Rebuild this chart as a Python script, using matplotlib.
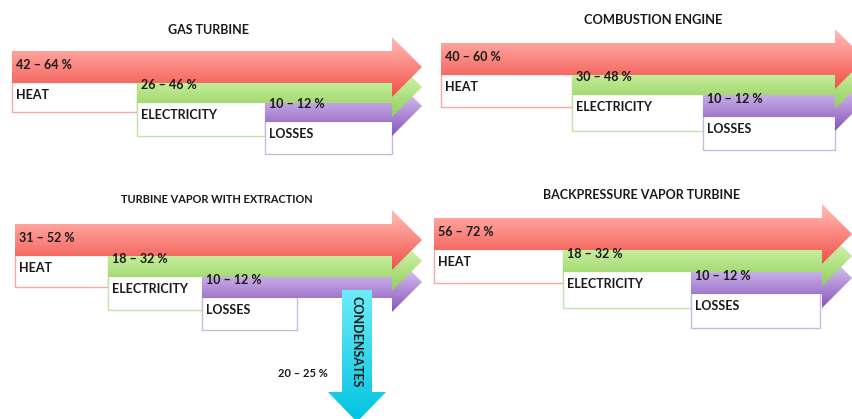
import matplotlib.pyplot as plt
import numpy as np
from matplotlib.patches import Polygon, Rectangle
from matplotlib.colors import to_rgb

plt.rcParams['font.family'] = ['Lato', 'DejaVu Sans']

# Energy split per technology
titles = ["GAS TURBINE", "COMBUSTION ENGINE",
          "TURBINE VAPOR WITH EXTRACTION", "BACKPRESSURE VAPOR TURBINE"]
heat_share = ["42 – 64 %", "40 – 60 %", "31 – 52 %", "56 – 72 %"]
electricity_share = ["26 – 46 %", "30 – 48 %", "18 – 32 %", "18 – 32 %"]
losses_share = ["10 – 12 %", "10 – 12 %", "10 – 12 %", "10 – 12 %"]
flow_names = ["HEAT", "ELECTRICITY", "LOSSES"]
condensates_name = "CONDENSATES"
condensates_share = "20 – 25 %"

# Layout, in pixels (y grows downward)
title_xy = [(209, 30), (653, 20), (217, 199), (642, 195)]
title_size = [9, 9.3, 7.9, 9]
band_x = [(12, 137, 265), (441, 572, 703), (15, 108, 202), (434, 563, 691)]
head_x = [392, 835, 392, 822]
band_y = [(67, 87, 106), (59, 79, 101), (240, 261, 282), (234, 256, 278)]
box_bottom = [(112, 136, 154), (107, 131, 150), (287, 310, 330), (283, 308, 328)]
losses_box_right = [392, 835, 297, 820]

HALF_BODY = 16
HALF_HEAD = 30
HEAD_LEN = 30
LABEL_SIZE = 9

# colours at the top and bottom edge of each band body
band_colors = [("#ffa49e", "#f56a63"), ("#d6f8ae", "#a6da76"), ("#dcc8f4", "#a078cc")]
box_edges = ["#f4aaa6", "#c4e2a4", "#cbb8df"]
text_color = "#1a1a1a"


def gradient_patch(ax, verts, top, bottom, ytop, ybot, z):
    """Fill a polygon with a vertical gradient, top colour at ytop, bottom at ybot."""
    poly = Polygon(verts, closed=True, facecolor='none', edgecolor='none')
    ax.add_patch(poly)
    xs = [v[0] for v in verts]
    ys = [v[1] for v in verts]
    rows = np.linspace(min(ys), max(ys), 200)
    t = np.clip((rows - ytop) / (ybot - ytop), -0.6, 1.4)[:, None, None]
    img = np.clip((1 - t) * np.array(to_rgb(top)) + t * np.array(to_rgb(bottom)), 0, 1)
    im = ax.imshow(img, extent=(min(xs), max(xs), max(ys), min(ys)),
                   origin='upper', aspect='auto', zorder=z,
                   interpolation='bilinear')
    im.set_clip_path(poly)


def right_arrow(ax, x0, xh, yc, top, bottom, z):
    verts = [(x0, yc - HALF_BODY), (xh, yc - HALF_BODY), (xh, yc - HALF_HEAD),
             (xh + HEAD_LEN, yc), (xh, yc + HALF_HEAD), (xh, yc + HALF_BODY),
             (x0, yc + HALF_BODY)]
    gradient_patch(ax, verts, top, bottom, yc - HALF_BODY, yc + HALF_BODY, z)


fig = plt.figure(figsize=(8.53, 4.19), dpi=100)
ax = fig.add_axes([0, 0, 1, 1])

for p in range(4):
    tx, ty = title_xy[p]
    ax.text(tx, ty, titles[p], ha='center', va='center', fontsize=title_size[p],
            fontweight='bold', color=text_color)
    shares = [heat_share[p], electricity_share[p], losses_share[p]]
    xs = band_x[p]
    ys = band_y[p]
    for i in range(3):
        # white label box under each band
        right = xs[i + 1] if i < 2 else losses_box_right[p]
        btop = ys[i] + HALF_BODY - 1
        ax.add_patch(Rectangle((xs[i], btop), right - xs[i], box_bottom[p][i] - btop,
                               facecolor='white', edgecolor=box_edges[i],
                               linewidth=1, zorder=1))
        ax.text(xs[i] + 4, btop + 13, flow_names[i], ha='left', va='center',
                fontsize=LABEL_SIZE, fontweight='bold', color=text_color, zorder=10)
        # band arrow: first one on top
        right_arrow(ax, xs[i], head_x[p], ys[i], *band_colors[i], z=5 - i)
        ax.text(xs[i] + 4, ys[i] - 2, shares[i], ha='left', va='center',
                fontsize=LABEL_SIZE, fontweight='bold', color=text_color, zorder=10)

# condensate outflow of the extraction turbine
cx, cw, ctop, chead = 357, 15, 290, 392
down = [(cx - cw, ctop), (cx + cw, ctop), (cx + cw, chead), (cx + 29, chead),
        (cx, chead + HEAD_LEN), (cx - 29, chead), (cx - cw, chead)]
gradient_patch(ax, down, "#6eecf8", "#00c2e0", ctop, chead + HEAD_LEN, 6)
ax.text(cx, 342, condensates_name, rotation=-90, ha='center', va='center',
        fontsize=LABEL_SIZE, fontweight='bold', color=text_color, zorder=10)
ax.text(328, 373, condensates_share, ha='right', va='center', fontsize=8,
        fontweight='bold', color=text_color, zorder=10)

ax.set_xlim(0, 853)
ax.set_ylim(419, 0)
ax.axis('off')
fig.savefig("out.png", dpi=100)
